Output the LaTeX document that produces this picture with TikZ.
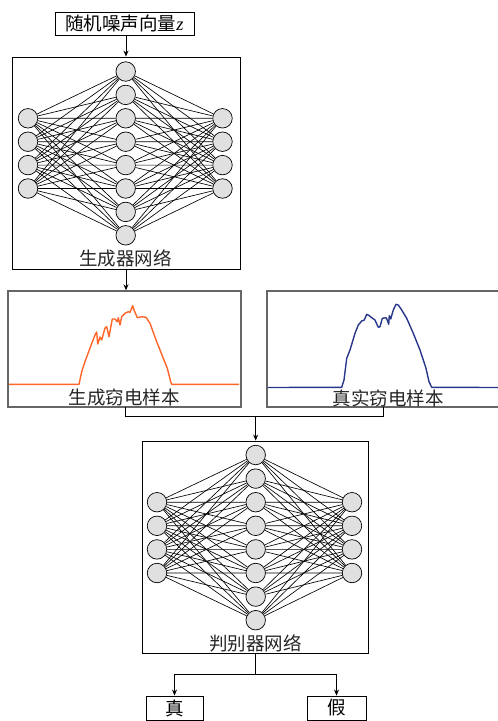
\documentclass[tikz,border=0pt]{standalone}
\usepackage{fontspec}
\newfontfamily\cjk{Noto Sans CJK SC}
\newfontfamily\latinserif{Liberation Serif}
\usetikzlibrary{arrows.meta,backgrounds}
\begin{document}
\begin{tikzpicture}[x=1pt,y=-1pt,
  every node/.style={font=\cjk\fontsize{18.5}{20}\selectfont, inner sep=0pt},
  box/.style={draw=black, line width=0.9pt, rectangle},
  samplebox/.style={draw=black!60, line width=1.4pt, rectangle},
  neuron/.style={circle, draw=black, line width=0.7pt, fill=black!12, minimum size=19.5pt},
  edge/.style={draw=black, line width=0.65pt},
  conn/.style={draw=black, line width=0.8pt},
  arr/.style={conn, -{Stealth[length=6pt,width=5pt]}},
  lbl/.style={text=black!85}
]
\useasboundingbox (0,0) rectangle (498,721);

% input box
\node[box, minimum width=139pt, minimum height=23pt] (noise) at (124.5,23.5) {随机噪声向量{\latinserif\itshape z}};

% generator
\node[box, minimum width=228pt, minimum height=212pt] (gen) at (126,163) {};
\foreach \i in {1,...,8} \node[neuron] (gm\i) at (125.7,{71.5+23.4*(\i-1)}) {};
\foreach \i in {1,...,4} {
  \node[neuron] (gl\i) at (28,{118.3+23.4*(\i-1)}) {};
  \node[neuron] (gr\i) at (222.5,{118.3+23.4*(\i-1)}) {};
}
\begin{scope}[on background layer]
\foreach \i in {1,...,4} \foreach \j in {1,...,8} {
  \draw[edge] (gl\i) -- (gm\j);
  \draw[edge] (gm\j) -- (gr\i);
}
\end{scope}
\node[lbl] (genlbl) at (125.7,258) {生成器网络};

\draw[arr] (noise.south -| gen.north) -- (gen.north);

% generated sample
\node[samplebox, minimum width=233pt, minimum height=116pt] (fake) at (124.5,349) {};
\draw[arr] (gen.south) -- (fake.north -| gen.south);
\draw[line width=1.4pt, color={rgb,255:red,255;green,100;blue,40}, line join=round]
 plot coordinates {(9,384.3) (79,384.3) (81.7,371.7) (85,361.7) (90,348) (95,335) (96.7,332) (97.7,344) (100,337) (101.7,340) (105,328) (106.7,326.7) (109,336.7) (112.3,319) (115,319) (117.3,321.7) (118.3,317.7) (120,325) (121.7,316.7) (125,313.3) (128.3,311.7) (130,312.3) (132.7,305.7) (134,310) (137.3,317.7) (141.7,316.7) (146,317.3) (150,323.3) (156.7,341.7) (163.3,358.3) (167.3,368.3) (170.7,381.7) (171.7,384.3) (239,384.3)};
\node[lbl] (fakelbl) at (124,397) {生成窃电样本};

% real sample
\node[samplebox, minimum width=240pt, minimum height=116pt] (real) at (387,349) {};
\draw[line width=1.4pt, color={rgb,255:red,40;green,55;blue,140}, line join=round]
 plot coordinates {(268,387.5) (341.7,387.3) (344,380) (346.7,358.3) (350,350) (355,333.3) (358.3,325) (361.7,321) (364.3,320) (366.7,314.3) (369.3,315.7) (371.7,317.7) (375,320) (378.3,327.3) (380,326.7) (382.3,318.3) (386,317.7) (387.3,320) (388.7,324.3) (389.3,315.7) (390.7,319) (393.3,310) (396,304.3) (398.3,305) (401.7,310) (406.7,318.3) (413.3,333.3) (420,350) (426,368.3) (429,381.7) (431.7,387.3) (498,387.5)};
\node[lbl] (reallbl) at (388,398) {真实窃电样本};

% discriminator
\node[box, minimum width=226pt, minimum height=212pt] (disc) at (255.7,547) {};
\foreach \i in {1,...,8} \node[neuron] (dm\i) at (255.7,{455+23.6*(\i-1)}) {};
\foreach \i in {1,...,4} {
  \node[neuron] (dl\i) at (157,{502.2+23.6*(\i-1)}) {};
  \node[neuron] (dr\i) at (352,{502.2+23.6*(\i-1)}) {};
}
\begin{scope}[on background layer]
\foreach \i in {1,...,4} \foreach \j in {1,...,8} {
  \draw[edge] (dl\i) -- (dm\j);
  \draw[edge] (dm\j) -- (dr\i);
}
\end{scope}
\node[lbl] (disclbl) at (255.7,643) {判别器网络};

% merge connectors
\coordinate (mj) at (255.7,416);
\coordinate (fb) at (125.7,407);
\coordinate (rb) at (383,407);
\draw[conn] (fb) |- (mj);
\draw[conn] (rb) |- (mj);
\draw[arr] (mj) -- (disc.north);

% outputs
\node[box, minimum width=57pt, minimum height=24pt] (true) at (174.5,708) {真};
\node[box, minimum width=59pt, minimum height=24pt] (false) at (336.5,708) {假};
\coordinate (sj) at (255.7,674);
\draw[conn] (disc.south) -- (sj);
\draw[arr] (sj) -| (true.north);
\draw[arr] (sj) -| (false.north);
\end{tikzpicture}
\end{document}
